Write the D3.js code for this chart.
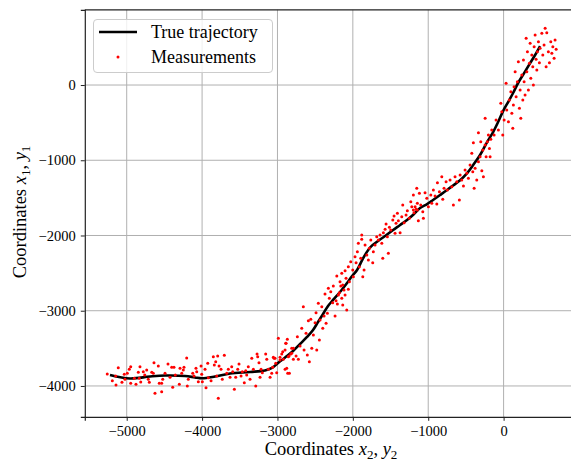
<!DOCTYPE html>
<html><head><meta charset="utf-8">
<script src="https://cdn.jsdelivr.net/npm/d3@7"></script>
<style>
body{margin:0;background:#fff}
svg{display:block}
text{font-family:"Liberation Serif","Times New Roman",serif;fill:#000}
</style>
</head><body><svg id="c" width="571" height="463"></svg>
<script>
const xTicks = [-5000, -4000, -3000, -2000, -1000, 0];
const yTicks = [0, -1000, -2000, -3000, -4000];
const xLimits = [-5556, 995];
const yLimits = [-4410, 1000];
const legendLabels = ["True trajectory", "Measurements"];

const trajectory = [
[-5222,-3854],[-4956,-3901],[-4691,-3874],[-4492,-3861],[-4226,-3867],[-4094,-3887],[-4001,-3898],
[-3828,-3874],[-3629,-3834],[-3364,-3814],[-3165,-3794],[-3072,-3761],[-2992,-3695],[-2899,-3622],
[-2793,-3535],[-2700,-3442],[-2608,-3349],[-2528,-3256],[-2462,-3150],[-2395,-3043],[-2329,-2937],
[-2263,-2857],[-2170,-2751],[-2077,-2631],[-2010,-2538],[-1944,-2459],[-1878,-2330],[-1820,-2228],
[-1760,-2148],[-1665,-2073],[-1572,-2007],[-1466,-1927],[-1373,-1861],[-1281,-1794],[-1188,-1714],
[-1108,-1635],[-1015,-1582],[-936,-1528],[-843,-1462],[-750,-1395],[-670,-1335],[-577,-1265],
[-484,-1170],[-405,-1065],[-312,-930],[-219,-758],[-139,-625],[-73,-492],[-7,-346],[60,-226],
[126,-106],[192,27],[272,159],[352,292],[418,399],[484,518]
];

const measurements = [
[-5258,-3841],[-5191,-3930],[-5146,-3867],[-5142,-3987],[-5112,-3757],[-5063,-3951],[-5032,-3845],
[-5023,-3911],[-4992,-3832],[-4966,-3778],[-4947,-3744],[-4947,-3964],[-4899,-3898],[-4877,-3978],
[-4846,-3818],[-4833,-3898],[-4824,-3744],[-4814,-3947],[-4780,-3810],[-4761,-3854],[-4735,-3788],
[-4714,-3911],[-4700,-3951],[-4668,-3818],[-4647,-3832],[-4638,-3691],[-4625,-4097],[-4581,-3734],
[-4568,-3964],[-4536,-3964],[-4536,-4076],[-4522,-3911],[-4492,-3832],[-4452,-3708],[-4425,-3885],
[-4403,-3752],[-4390,-4018],[-4373,-3752],[-4355,-3854],[-4302,-3978],[-4293,-3765],[-4270,-3832],
[-4249,-3788],[-4240,-3752],[-4204,-3628],[-4196,-4000],[-4183,-3911],[-4124,-3832],[-4107,-3867],
[-4081,-3765],[-4071,-3810],[-4050,-3943],
[-4014,-3734],[-4005,-3845],[-3997,-3943],[-3961,-3778],[-3925,-3699],[-3917,-3890],[-3948,-4023],
[-3881,-3930],[-3851,-3611],[-3838,-3721],[-3819,-3677],[-3806,-3867],[-3793,-3602],[-3775,-3734],
[-3785,-4164],[-3749,-3778],[-3732,-3911],[-3705,-3592],[-3673,-3832],[-3652,-3778],[-3629,-3885],
[-3607,-3744],[-3594,-3810],[-3572,-4044],[-3554,-3885],[-3527,-3778],[-3510,-3708],[-3483,-3867],
[-3466,-3810],[-3440,-3956],[-3421,-3797],[-3408,-3854],[-3387,-3744],[-3364,-3911],[-3341,-3632],
[-3320,-3778],[-3288,-4000],[-3271,-3575],[-3262,-3611],[-3245,-3691],[-3231,-3885],[-3218,-3778],
[-3201,-3824],[-3156,-3575],[-3142,-3646],[-3121,-3778],[-3098,-3885],[-3076,-3832],[-3055,-3619],
[-3032,-3632],[-3023,-3699],[-2966,-3619],[-2943,-3575],[-2922,-3646],[-2899,-3522],[-2890,-3433],
[-2877,-3765],[-2864,-3832],[-2846,-3602],[-2811,-3566],[-2789,-3499],
[-3045,-3632],[-3063,-3752],[-3010,-3824],[-2988,-3366],[-2966,-3655],[-2930,-3544],[-2899,-3778],
[-2886,-3433],[-2869,-3380],[-2856,-3611],[-2842,-3832],[-2824,-3575],[-2811,-3499],[-2789,-3646],
[-2753,-3602],[-2736,-3345],[-2723,-3646],[-2700,-3469],[-2678,-3234],[-2657,-2946],[-2647,-3522],
[-2621,-3300],[-2604,-3588],[-2590,-3132],[-2577,-3677],[-2558,-3114],[-2545,-3499],[-2524,-3323],
[-2501,-3159],[-2488,-3026],[-2479,-3522],[-2458,-2901],[-2444,-3389],[-2435,-3123],[-2412,-2946],
[-2399,-3234],[-2382,-3070],[-2369,-2778],[-2355,-3167],[-2338,-3034],[-2325,-2702],[-2312,-2835],
[-2293,-2747],[-2267,-2893],[-2259,-2671],[-2236,-3070],[-2223,-2867],[-2205,-2911],[-2192,-2791],
[-2179,-2760],[-2160,-2671],[-2147,-2835],[-2134,-2924],[-2117,-2724],[-2103,-2791],[-2081,-2990],
[-2060,-2715],
[-2213,-2538],[-2170,-2614],[-2147,-2503],[-2134,-2658],[-2103,-2468],[-2090,-2569],[-2060,-2415],
[-2046,-2614],[-2028,-2348],[-2001,-2459],[-1993,-2548],[-1971,-2282],[-1957,-2362],[-1940,-2215],
[-1927,-2104],[-1914,-2415],[-1895,-2303],[-1882,-1994],[-1882,-2051],[-1868,-2548],[-1851,-2459],
[-1838,-2126],[-1815,-2259],[-1794,-2326],[-1781,-2170],[-1762,-2060],[-1736,-2362],[-1728,-2215],
[-1705,-2126],[-1683,-2016],[-1661,-2060],[-1639,-1994],[-1616,-2104],[-1603,-2303],[-1595,-1963],
[-1572,-1918],[-1559,-1847],[-1542,-2016],[-1529,-2237],[-1515,-1891],[-1497,-1927],[-1470,-1794],
[-1453,-1741],[-1440,-1971],[-1427,-1838],[-1409,-1705],[-1396,-1803],[-1373,-1963],[-1351,-1750],
[-1338,-1595],[-1320,-1830],[-1294,-1728],[-1277,-1671],[-1250,-1772],[-1231,-1551],[-1218,-1617],
[-1197,-1462],[-1188,-1697],[-1161,-1652],[-1144,-1572],[-1131,-1803],
[-1197,-1661],[-1174,-1617],[-1152,-1373],[-1144,-1661],[-1117,-1439],[-1099,-1595],[-1072,-1684],
[-1064,-1772],[-1042,-1431],[-1019,-1506],[-998,-1617],[-966,-1462],[-953,-1572],[-932,-1395],
[-909,-1475],[-886,-1582],[-878,-1298],[-852,-1418],[-820,-1219],[-807,-1519],[-790,-1373],
[-763,-1285],[-746,-1395],[-710,-1263],[-687,-1352],[-666,-1595],[-644,-1219],[-621,-1285],
[-587,-1528],[-577,-1196],[-555,-1263],[-533,-1342],[-511,-1130],[-488,-1174],[-467,-1240],
[-445,-1063],[-422,-908],[-409,-1152],[-391,-1373],[-378,-1107],[-356,-1263],[-334,-1019],
[-312,-953],[-303,-754],[-289,-1139],[-276,-864],[-268,-1219],[-245,-797],[-232,-953],[-215,-754],
[-202,-665],[-188,-842],[-179,-953],[-170,-722],[-157,-598],[-245,-443],[-334,-634],[-401,-767],
[-126,-665],[-100,-465],[-69,-598],[-37,-243],[-24,-355],[-11,-665],[7,-465],[33,23],[42,-332],
[64,-488],[77,-199],[96,-89],[109,-376],[122,-575],[130,-266],[139,-23],[153,177],[166,-155],
[183,44],[196,310],[210,-310],[219,-66],[228,-443],[242,133],[255,-199],[263,332],[272,44],
[285,-133],[299,621],[308,177],[316,443],[329,-66],[342,288],[352,554],[361,89],[374,399],
[387,243],[395,0],[405,509],[418,665],[431,342],[441,199],[449,443],[462,575],[475,296],[484,488],
[507,687],[520,399],[537,532],[551,754],[564,243],[573,695],[594,443],[608,296],[626,575],
[640,421],[653,509],[670,355],[683,598],[697,474]
];

const svg = d3.select("#c");
const x = d3.scaleLinear().domain(xLimits).range([84.8, 578.6]);
const y = d3.scaleLinear().domain(yLimits).range([416.8, 9.8]);
const fmt = d => (d < 0 ? "\u2212" + Math.abs(d) : String(d));

// grid
const g = svg.append("g");
g.selectAll("line.gx").data(xTicks).join("line")
  .attr("x1", d => x(d)).attr("x2", d => x(d))
  .attr("y1", y.range()[0]).attr("y2", y.range()[1])
  .attr("stroke", "#b0b0b0").attr("stroke-width", 1);
g.selectAll("line.gy").data(yTicks).join("line")
  .attr("y1", d => y(d)).attr("y2", d => y(d))
  .attr("x1", x.range()[0]).attr("x2", x.range()[1])
  .attr("stroke", "#b0b0b0").attr("stroke-width", 1);

// trajectory
svg.append("path").datum(trajectory)
  .attr("d", d3.line().x(d => x(d[0])).y(d => y(d[1])).curve(d3.curveCatmullRom))
  .attr("fill", "none").attr("stroke", "#000").attr("stroke-width", 2.6)
  .attr("stroke-linejoin", "round");

// measurements
svg.append("g").selectAll("circle").data(measurements).join("circle")
  .attr("cx", d => x(d[0])).attr("cy", d => y(d[1])).attr("r", 1.5)
  .attr("fill", "#ff0000");

// axes
const xAxis = d3.axisBottom(x).tickValues(xTicks).tickFormat(fmt).tickSize(4).tickPadding(5);
const yAxis = d3.axisLeft(y).tickValues(yTicks).tickFormat(fmt).tickSize(4).tickPadding(5);
const gx = svg.append("g").attr("transform", `translate(0,${y.range()[0]})`).call(xAxis);
const gy = svg.append("g").attr("transform", `translate(${x.range()[0]},0)`).call(yAxis);
[gx, gy].forEach(a => {
  a.select(".domain").attr("stroke", "#222").attr("stroke-width", 1.2);
  a.selectAll(".tick line").attr("stroke", "#222").attr("stroke-width", 1);
  a.selectAll(".tick text").attr("font-family", '"Liberation Serif", serif').attr("font-size", 14.5).attr("fill", "#000");
});
// top spine
svg.append("line").attr("x1", x.range()[0]).attr("x2", 571)
  .attr("y1", y.range()[1]).attr("y2", y.range()[1])
  .attr("stroke", "#222").attr("stroke-width", 1.2);

// axis labels
const xl = svg.append("text").attr("x", 331).attr("y", 455).attr("text-anchor", "middle").attr("font-size", 18.5);
xl.append("tspan").text("Coordinates ");
xl.append("tspan").attr("font-style", "italic").text("x");
xl.append("tspan").attr("font-size", 13).attr("dy", 3.5).text("2");
xl.append("tspan").attr("dy", -3.5).text(", ");
xl.append("tspan").attr("font-style", "italic").text("y");
xl.append("tspan").attr("font-size", 13).attr("dy", 3.5).text("2");

const yl = svg.append("text").attr("transform", "translate(26,212) rotate(-90)").attr("text-anchor", "middle").attr("font-size", 18.5);
yl.append("tspan").text("Coordinates ");
yl.append("tspan").attr("font-style", "italic").text("x");
yl.append("tspan").attr("font-size", 13).attr("dy", 3.5).text("1");
yl.append("tspan").attr("dy", -3.5).text(", ");
yl.append("tspan").attr("font-style", "italic").text("y");
yl.append("tspan").attr("font-size", 13).attr("dy", 3.5).text("1");

// legend
const lg = svg.append("g");
lg.append("rect").attr("x", 93.5).attr("y", 19.5).attr("width", 179).attr("height", 53).attr("rx", 3.5)
  .attr("fill", "#fff").attr("fill-opacity", 0.8).attr("stroke", "#cccccc").attr("stroke-width", 1);
lg.append("line").attr("x1", 99).attr("x2", 137).attr("y1", 32).attr("y2", 32)
  .attr("stroke", "#000").attr("stroke-width", 2.6);
lg.append("circle").attr("cx", 118).attr("cy", 57).attr("r", 1.5).attr("fill", "#ff0000");
lg.selectAll("text").data(legendLabels).join("text")
  .attr("x", 151).attr("y", (d, i) => 38 + i * 25).attr("font-size", 18).text(d => d);
</script>
</body></html>
